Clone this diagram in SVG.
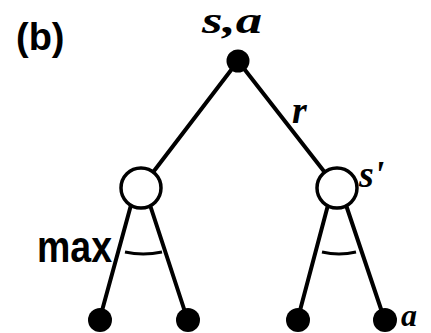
<svg xmlns="http://www.w3.org/2000/svg" width="431" height="333" viewBox="0 0 431 333">
<style>
.e{stroke:#000;stroke-width:4;fill:none;stroke-linecap:round}
.a{stroke:#000;stroke-width:3;fill:none}
.b{fill:#000}
.w{fill:#fff;stroke:#000;stroke-width:3.5}
.t{font-family:"Liberation Sans",Arial,sans-serif;font-weight:bold;fill:#000}
.i{font-family:"Liberation Serif","Times New Roman",serif;font-weight:bold;font-style:italic;fill:#000}
</style>
<rect width="431" height="333" fill="#fff"/>
<g id="connectors">
<line class="e" x1="238" y1="61" x2="141" y2="188"/>
<line class="e" x1="238" y1="61" x2="337" y2="188"/>
<line class="e" x1="131" y1="205" x2="100" y2="318"/>
<line class="e" x1="150" y1="205" x2="187" y2="318"/>
<line class="e" x1="328" y1="205" x2="298" y2="318"/>
<line class="e" x1="346" y1="205" x2="384" y2="318"/>
<path class="a" d="M125,252 Q143,256 162,252"/>
<path class="a" d="M322,252 Q339,256 356,252"/>
</g>
<g id="root"><circle class="b" cx="238" cy="61" r="11.5"/></g>
<g id="left"><circle class="w" cx="141" cy="188" r="20"/></g>
<g id="right"><circle class="w" cx="337" cy="188" r="20"/></g>
<g id="leaf1"><circle class="b" cx="100" cy="320" r="12"/></g>
<g id="leaf2"><circle class="b" cx="188" cy="320" r="12"/></g>
<g id="leaf3"><circle class="b" cx="298" cy="320" r="12"/></g>
<g id="leaf4"><circle class="b" cx="385" cy="320" r="12"/></g>
<g id="labels">
<text class="t" x="16" y="50" font-size="38">(b)</text>
<text class="i" x="202" y="33" font-size="38" textLength="60" lengthAdjust="spacingAndGlyphs">s,a</text>
<text class="i" x="292" y="123" font-size="38">r</text>
<text class="i" x="359" y="187" font-size="38">s'</text>
<text class="i" x="401" y="326" font-size="32">a</text>
<text class="t" x="37" y="262" font-size="44" textLength="75" lengthAdjust="spacingAndGlyphs">max</text>
</g>
</svg>
